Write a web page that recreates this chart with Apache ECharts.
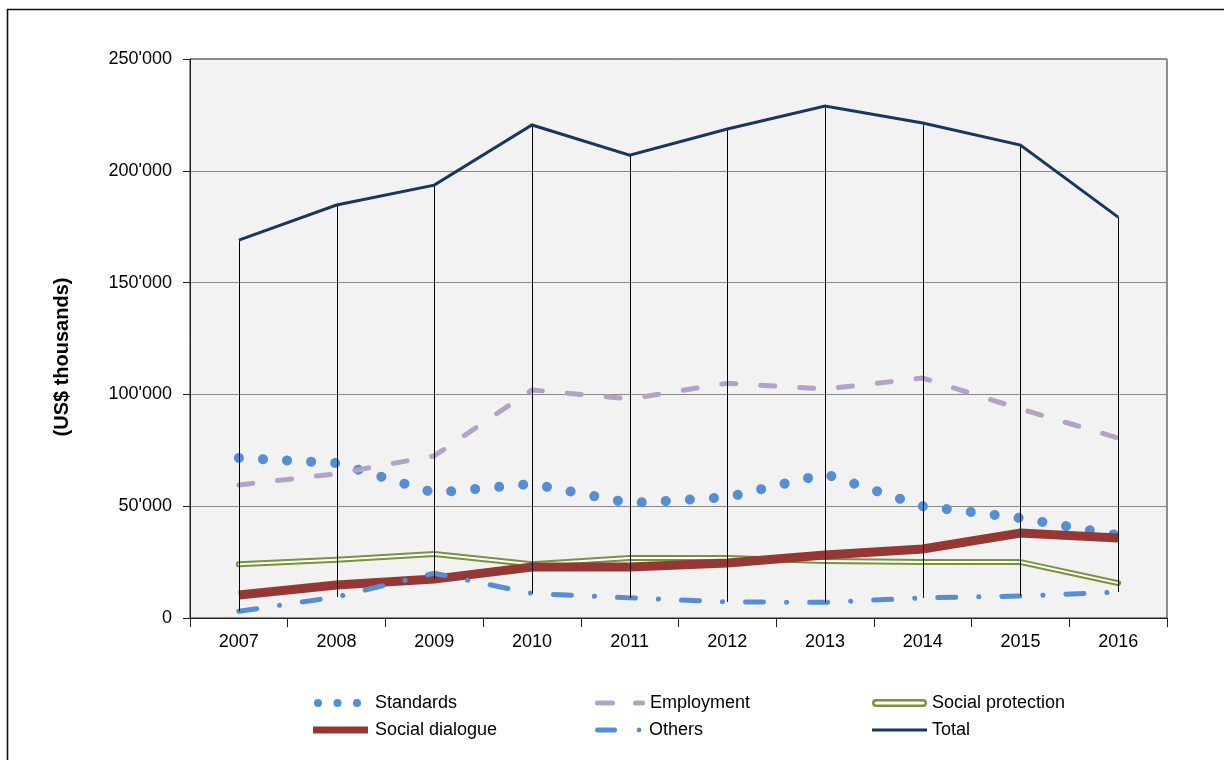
<!DOCTYPE html>
<html>
<head>
<meta charset="utf-8">
<script src="https://cdn.jsdelivr.net/npm/echarts@6/dist/echarts.min.js"></script>
<style>html,body{margin:0;padding:0;background:#fff;}#c{width:1224px;height:760px;}</style>
</head>
<body>
<div id="c"></div>
<script>
const years = ['2007','2008','2009','2010','2011','2012','2013','2014','2015','2016'];
const standards = [71600, 69300, 56000, 60000, 51400, 54000, 64400, 50000, 44700, 37000];
const employment = [59500, 64500, 72500, 102000, 98000, 105000, 102400, 107300, 93500, 80500];
const socialProtection = [24000, 26000, 28600, 24000, 26800, 26800, 25500, 25000, 25000, 15600];
const socialDialogue = [10300, 14800, 17400, 22800, 22800, 24600, 28200, 30900, 38000, 35800];
const others = [3000, 9400, 20000, 11000, 9000, 7200, 7000, 9000, 9800, 11600];
const total = [169000, 184700, 193600, 220500, 207000, 218700, 229000, 221400, 211500, 179300];
const yTicks = [0, 50000, 100000, 150000, 200000, 250000];
const yTitle = '(US$ thousands)';

const allSeries = [standards, employment, socialProtection, socialDialogue, others, total];
const hiLo = years.map((y, i) => {
  const vals = allSeries.map(s => s[i]);
  return [i, Math.max.apply(null, vals), Math.min.apply(null, vals)];
});

function fmt(v) {
  if (v === 0) return '0';
  const s = String(Math.round(v));
  return s.replace(/\B(?=(\d{3})+(?!\d))/g, "'");
}
function circle(cx, cy, r) {
  return 'M' + (cx - r) + ',' + cy + ' a' + r + ',' + r + ' 0 1,0 ' + (2 * r) + ',0 a' + r + ',' + r + ' 0 1,0 ' + (-2 * r) + ',0 Z ';
}
function pill(x0, x1, h) {
  const r = h / 2;
  return 'M' + (x0 + r) + ',0 H' + (x1 - r) + ' A' + r + ',' + r + ' 0 0 1 ' + (x1 - r) + ',' + h + ' H' + (x0 + r) + ' A' + r + ',' + r + ' 0 0 1 ' + (x0 + r) + ',0 Z ';
}

const font = '"Liberation Sans", Arial, sans-serif';
const chart = echarts.init(document.getElementById('c'), null, {renderer: 'canvas'});

const icons = {
  'Standards': {path: 'path://M0,4 ' + circle(5, 4, 4) + circle(24.5, 4, 4) + circle(44, 4, 4) + 'M57,4', w: 57, h: 8, color: '#558ed5'},
  'Employment': {path: 'path://' + pill(0, 20, 5) + pill(38, 50, 5) + 'M49,2.5', w: 50, h: 5, color: '#b3a2c7'},
  'Social protection': {path: 'path://M4,0 H51 A4,4 0 0 1 51,8 H4 A4,4 0 0 1 4,0 Z M4,2.5 A1.5,1.5 0 0 0 4,5.5 H51 A1.5,1.5 0 0 0 51,2.5 Z', w: 55, h: 8, color: '#77933c'},
  'Social dialogue': {path: 'path://M0,0 H55 V7 H0 Z M57,3.5', w: 57, h: 7, color: '#953735'},
  'Others': {path: 'path://' + pill(0, 22, 5) + circle(44, 2.5, 2.4) + 'M49,2.5', w: 49, h: 5, color: '#558ed5'},
  'Total': {path: 'path://M0,0 H55 V3 H0 Z', w: 55, h: 3, color: '#17375e'}
};

function legendAt(name, left, cy) {
  const ic = icons[name];
  return {
    data: [{name: name, icon: ic.path, itemStyle: {color: ic.color, borderWidth: 0}}],
    left: left, top: cy - 8, padding: 0,
    itemWidth: ic.w, itemHeight: ic.h, itemGap: 0, symbolKeepAspect: false,
    textStyle: {fontFamily: font, fontSize: 18, color: '#000'},
    selectedMode: false
  };
}

const option = {
  animation: false,
  backgroundColor: '#ffffff',
  graphic: [{
    type: 'rect', z: -1, silent: true,
    shape: {x: 7.5, y: 9.5, width: 1300, height: 800},
    style: {fill: 'none', stroke: '#111', lineWidth: 1.6}
  }, {
    type: 'text', x: 62, y: 357, rotation: Math.PI / 2, silent: true,
    style: {text: yTitle, fontFamily: font, fontSize: 20, fontWeight: 'bold', fill: '#000', align: 'center', verticalAlign: 'middle'}
  }],
  grid: {left: 190, right: 57, top: 59, bottom: 142, show: true, backgroundColor: '#f2f2f2', borderColor: '#222', borderWidth: 1},
  legend: [
    legendAt('Standards', 313, 702),
    legendAt('Employment', 595, 702),
    legendAt('Social protection', 872, 702),
    legendAt('Social dialogue', 313, 729),
    legendAt('Others', 595, 729),
    legendAt('Total', 872, 729)
  ],
  xAxis: {
    type: 'category', data: years, boundaryGap: true,
    axisLine: {lineStyle: {color: '#222', width: 1}},
    axisTick: {show: true, alignWithLabel: false, length: 9, lineStyle: {color: '#222'}},
    axisLabel: {fontFamily: font, fontSize: 18, color: '#000', margin: 15},
    splitLine: {show: false}
  },
  yAxis: {
    type: 'value', min: 0, max: 250000, interval: 50000,
    axisLine: {show: true, lineStyle: {color: '#222', width: 1}},
    axisTick: {show: true, length: 7, lineStyle: {color: '#222'}},
    axisLabel: {fontFamily: font, fontSize: 18, color: '#000', margin: 18,
      formatter: v => yTicks.indexOf(v) >= 0 ? fmt(v) : ''},
    splitLine: {show: true, lineStyle: {color: '#888', width: 1}}
  },
  series: [
    {name: 'Standards', type: 'line', data: standards, symbol: 'none', z: 2,
      lineStyle: {color: '#558ed5', width: 10, type: [0.1, 24], cap: 'round'}, itemStyle: {color: '#558ed5'}},
    {name: 'Employment', type: 'line', data: employment, symbol: 'none', z: 3,
      lineStyle: {color: '#b3a2c7', width: 5, type: [14, 25], cap: 'round'}, itemStyle: {color: '#b3a2c7'}},
    {name: 'Social protection', type: 'line', data: socialProtection, symbol: 'none', z: 4,
      lineStyle: {color: '#77933c', width: 6, cap: 'round', join: 'round'}, itemStyle: {color: '#77933c'}},
    {name: 'Social protection inner', type: 'line', data: socialProtection, symbol: 'none', z: 5,
      lineStyle: {color: '#ffffff', width: 2, cap: 'round', join: 'round'}, itemStyle: {color: '#ffffff'}},
    {name: 'Social dialogue', type: 'line', data: socialDialogue, symbol: 'none', z: 6,
      lineStyle: {color: '#953735', width: 9, cap: 'butt', join: 'miter'}, itemStyle: {color: '#953735'}},
    {name: 'Others', type: 'line', data: others, symbol: 'none', z: 7,
      lineStyle: {color: '#558ed5', width: 5, type: [18, 23, 0.1, 23], cap: 'round'}, itemStyle: {color: '#558ed5'}},
    {name: 'Total', type: 'line', data: total, symbol: 'none', z: 9,
      lineStyle: {color: '#17375e', width: 3, join: 'miter'}, itemStyle: {color: '#17375e'}},
    {name: 'hilo', type: 'custom', data: hiLo, z: 8,
      encode: {x: 0, y: [1, 2]},
      renderItem: function (params, api) {
        const p1 = api.coord([api.value(0), api.value(1)]);
        const p2 = api.coord([api.value(0), api.value(2)]);
        return {type: 'line', shape: {x1: Math.round(p1[0]) + 0.5, y1: p1[1], x2: Math.round(p2[0]) + 0.5, y2: p2[1]},
          style: {stroke: '#000', lineWidth: 1}};
      }}
  ]
};
chart.setOption(option);
</script>
</body>
</html>
